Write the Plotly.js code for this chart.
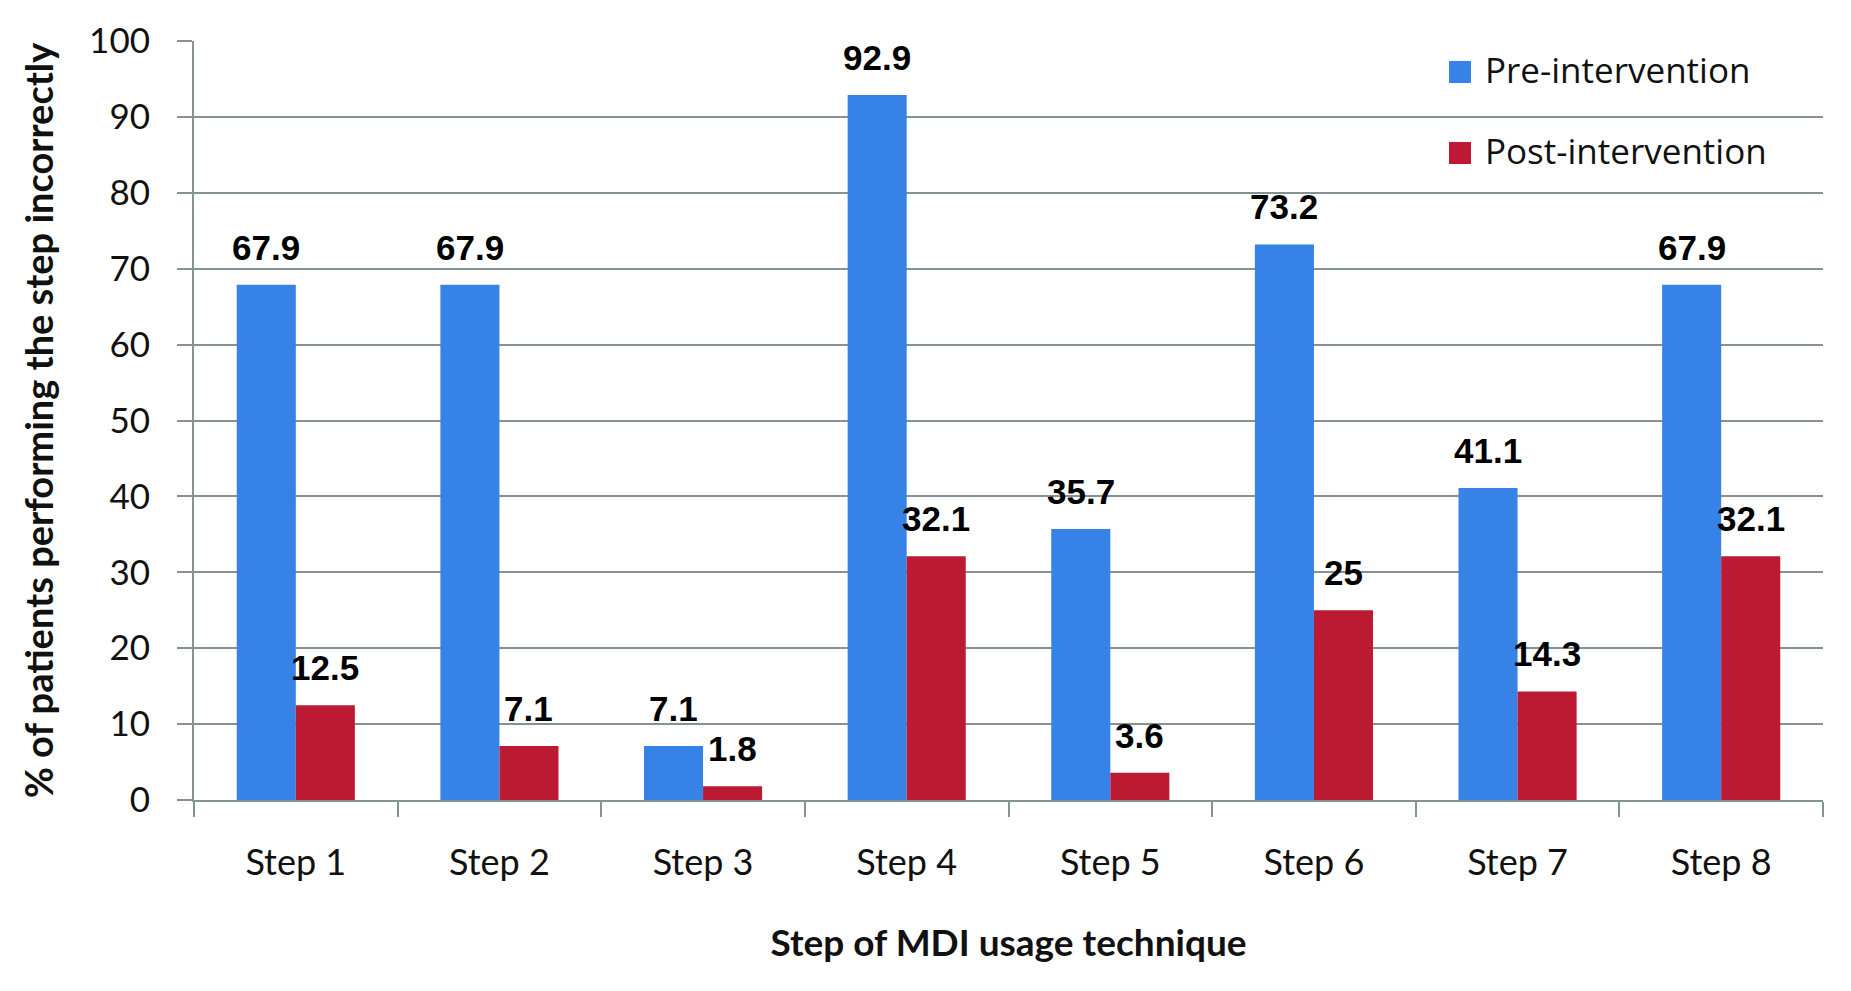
<!DOCTYPE html>
<html>
<head>
<meta charset="utf-8">
<script src="https://cdn.plot.ly/plotly-3.0.1.min.js"></script>
<style>
  html, body { margin: 0; padding: 0; background: #ffffff; }
  #chart { width: 1851px; height: 991px; }
</style>
</head>
<body>
<div id="chart"></div>
<script>
const categories = ["Step 1", "Step 2", "Step 3", "Step 4", "Step 5", "Step 6", "Step 7", "Step 8"];
const preIntervention = [67.9, 67.9, 7.1, 92.9, 35.7, 73.2, 41.1, 67.9];
const postIntervention = [12.5, 7.1, 1.8, 32.1, 3.6, 25, 14.3, 32.1];
const seriesNames = ["Pre-intervention", "Post-intervention"];
const yTickValues = [0, 10, 20, 30, 40, 50, 60, 70, 80, 90, 100];

const blue = "#3682E6";
const red = "#BC1A33";
const gridGray = "#849292";
const seriesColors = [blue, red];

const traces = [
  {
    type: "bar", name: seriesNames[0], x: categories, y: preIntervention,
    marker: { color: blue }, hoverinfo: "y"
  },
  {
    type: "bar", name: seriesNames[1], x: categories, y: postIntervention,
    marker: { color: red }, hoverinfo: "y"
  }
];

const labelFont = { family: "Liberation Sans, Arial, sans-serif", size: 35, color: "#000000", weight: "bold" };
const annotations = [];
[preIntervention, postIntervention].forEach((series, s) => {
  series.forEach((v, i) => {
    annotations.push({
      x: categories[i], y: v, xref: "x", yref: "y",
      text: "<b>" + String(v) + "</b>", showarrow: false,
      xanchor: "center", yanchor: "bottom",
      xshift: s === 0 ? -29.5 : 29.5, yshift: 16,
      font: labelFont
    });
  });
});

// Legend drawn as paper-positioned swatches + text
const legendRowY = [0.9592, 0.8524];
const shapes = [];
seriesNames.forEach((name, k) => {
  shapes.push({
    type: "rect", xref: "paper", yref: "paper",
    x0: 0.7704, x1: 0.7839, y0: legendRowY[k] - 0.0145, y1: legendRowY[k] + 0.0145,
    fillcolor: seriesColors[k], line: { width: 0 }
  });
  annotations.push({
    xref: "paper", yref: "paper", x: 0.7913, y: legendRowY[k] + 0.003,
    xanchor: "left", yanchor: "middle", showarrow: false,
    text: name, font: { family: "Open Sans, sans-serif", size: 35, color: "#111111" }
  });
});

const layout = {
  width: 1851, height: 991,
  margin: { l: 194, r: 28, t: 41, b: 191 },
  paper_bgcolor: "#ffffff", plot_bgcolor: "#ffffff",
  barmode: "group", bargap: 0.42, bargroupgap: 0,
  showlegend: false,
  xaxis: {
    type: "category",
    showline: true, linecolor: gridGray, linewidth: 2,
    ticks: "outside", tickson: "boundaries", ticklen: 15, tickcolor: gridGray, tickwidth: 2,
    tickfont: { family: "Lato, sans-serif", size: 36, color: "#111111" },
    ticklabelstandoff: 30,
    showgrid: false, zeroline: false,
    title: { text: "<b>Step of MDI usage technique</b>", font: { family: "Lato, sans-serif", size: 37, color: "#111111" }, standoff: 48 }
  },
  yaxis: {
    range: [0, 100], tickvals: yTickValues, ticktext: yTickValues.map(String),
    showline: true, linecolor: gridGray, linewidth: 2,
    ticks: "outside", ticklen: 15, tickcolor: gridGray, tickwidth: 2,
    showgrid: true, gridcolor: gridGray, gridwidth: 2,
    zeroline: false,
    tickfont: { family: "Lato, sans-serif", size: 35, color: "#111111" },
    ticklabelstandoff: 20,
    title: { text: "<b>% of patients performing the step incorrectly</b>", font: { family: "Lato, sans-serif", size: 38, color: "#111111" }, standoff: 24 }
  },
  shapes: shapes,
  annotations: annotations
};

Plotly.newPlot("chart", traces, layout, { displayModeBar: false, staticPlot: true });
</script>
</body>
</html>
